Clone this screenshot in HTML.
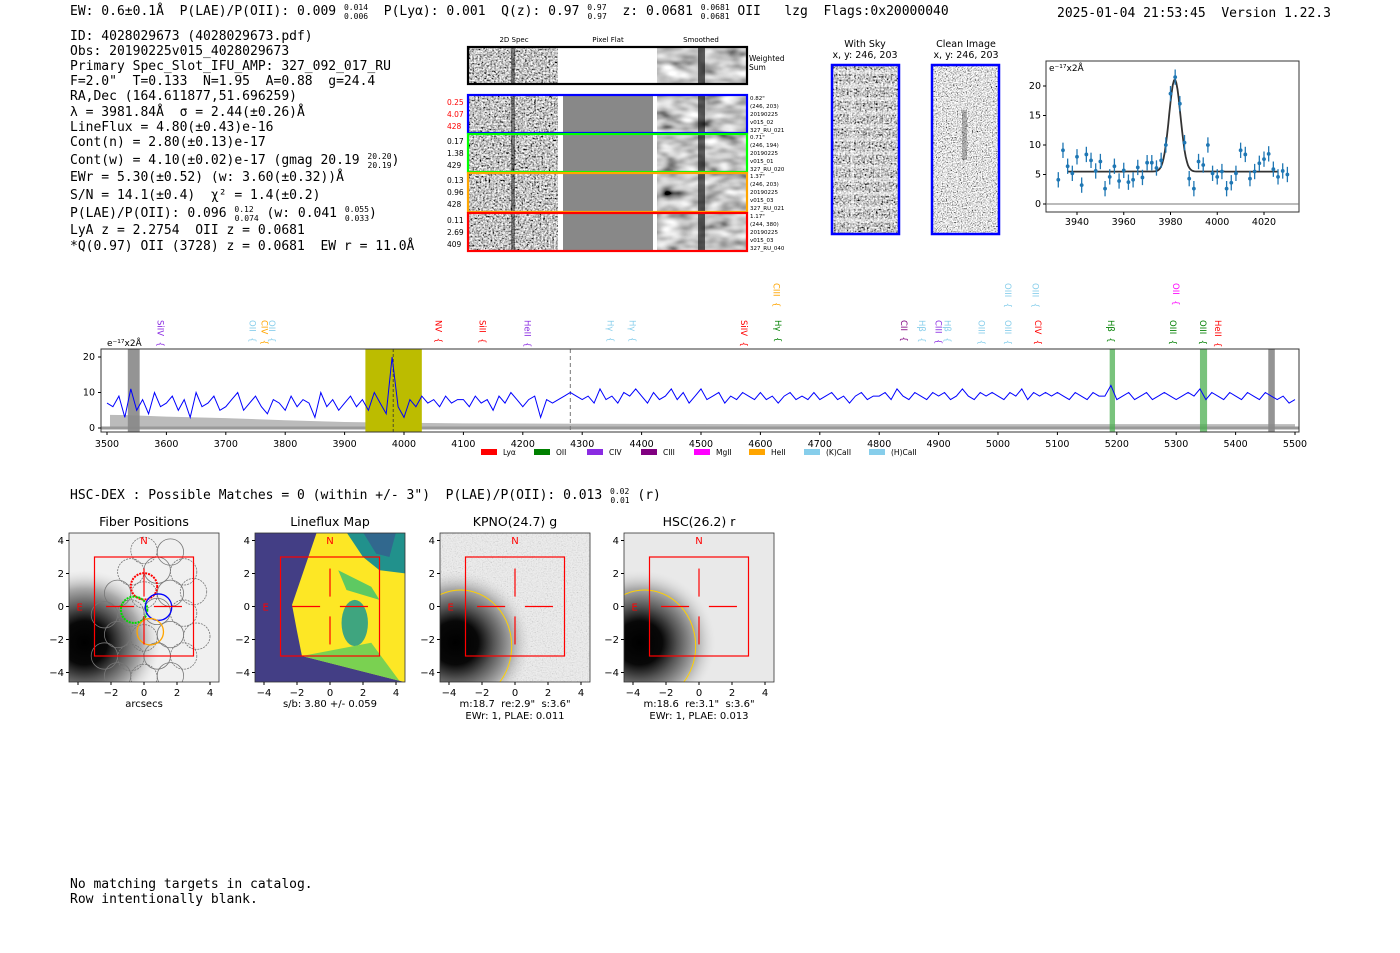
<!DOCTYPE html>
<html><head><meta charset="utf-8"><title>Detection 4028029673</title>
<style>
html,body{margin:0;padding:0;background:#fff;}
svg{display:block;}
text{white-space:pre;}
.mono{font-family:"DejaVu Sans Mono","Liberation Mono",monospace;}
.sans{font-family:"DejaVu Sans","Liberation Sans",sans-serif;}
</style></head>
<body>
<svg id="page" width="1400" height="953" viewBox="0 0 1400 953" xmlns="http://www.w3.org/2000/svg" xml:space="preserve">
<defs>
<filter id="noiseF" x="0" y="0" width="100%" height="100%">
<feTurbulence type="fractalNoise" baseFrequency="0.55" numOctaves="2" seed="3"/>
<feColorMatrix type="matrix" values="1.5 1.5 0 0 -0.95  1.5 1.5 0 0 -0.95  1.5 1.5 0 0 -0.95  0 0 0 0 1"/>
</filter>
<filter id="smoothF" x="0" y="0" width="100%" height="100%">
<feTurbulence type="fractalNoise" baseFrequency="0.05 0.1" numOctaves="2" seed="7"/>
<feColorMatrix type="matrix" values="1.0 1.0 0 0 -0.45  1.0 1.0 0 0 -0.45  1.0 1.0 0 0 -0.45  0 0 0 0 1"/>
</filter>
<filter id="fineF" x="0" y="0" width="100%" height="100%">
<feTurbulence type="fractalNoise" baseFrequency="0.8" numOctaves="1" seed="11"/>
<feColorMatrix type="matrix" values="1.8 1.8 0 0 -1.05  1.8 1.8 0 0 -1.05  1.8 1.8 0 0 -1.05  0 0 0 0 1"/>
</filter>
<radialGradient id="blob" cx="0.5" cy="0.5" r="0.5">
<stop offset="0" stop-color="#000"/><stop offset="0.3" stop-color="#080808"/><stop offset="0.5" stop-color="#555"/><stop offset="0.75" stop-color="#aaa"/><stop offset="1" stop-color="#ddd" stop-opacity="0"/>
</radialGradient>
<clipPath id="cp0"><rect x="69" y="533" width="150" height="149"/></clipPath>
<clipPath id="cp1"><rect x="255" y="533" width="150" height="149"/></clipPath>
<clipPath id="cp2"><rect x="440" y="533" width="150" height="149"/></clipPath>
<clipPath id="cp3"><rect x="624" y="533" width="150" height="149"/></clipPath>
<clipPath id="cpSpec"><rect x="101" y="349" width="1198" height="83"/></clipPath>
</defs>
<rect width="1400" height="953" fill="#fff"/>

<g class="mono" font-size="13" fill="#000">
<text x="70" y="15">EW: 0.6±0.1Å  P(LAE)/P(OII): 0.009 <tspan font-size="8" dy="-5">0.014</tspan><tspan font-size="8" dx="-24" dy="9">0.006</tspan><tspan dy="-4">  P(Lyα): 0.001  Q(z): 0.97 </tspan><tspan font-size="8" dy="-5">0.97</tspan><tspan font-size="8" dx="-19" dy="9">0.97</tspan><tspan dy="-4">  z: 0.0681 </tspan><tspan font-size="8" dy="-5">0.0681</tspan><tspan font-size="8" dx="-29" dy="9">0.0681</tspan><tspan dy="-4"> OII   lzg  Flags:0x20000040</tspan></text>
<text x="1057" y="17">2025-01-04 21:53:45  Version 1.22.3</text>
</g>
<g class="mono" font-size="13" fill="#000">
<text x="70" y="40">ID: 4028029673 (4028029673.pdf)</text>
<text x="70" y="55">Obs: 20190225v015_4028029673</text>
<text x="70" y="70">Primary Spec_Slot_IFU_AMP: 327_092_017_RU</text>
<text x="70" y="85">F=2.0"  T=0.133  N=1.95  A=0.88  g=24.4</text>
<text x="70" y="100">RA,Dec (164.611877,51.696259)</text>
<text x="70" y="116">λ = 3981.84Å  σ = 2.44(±0.26)Å</text>
<text x="70" y="131">LineFlux = 4.80(±0.43)e-16</text>
<text x="70" y="146">Cont(n) = 2.80(±0.13)e-17</text>
<text x="70" y="164">Cont(w) = 4.10(±0.02)e-17 (gmag 20.19 <tspan font-size="8" dy="-5">20.20</tspan><tspan font-size="8" dx="-24" dy="9">20.19</tspan><tspan dy="-4">)</tspan></text>
<text x="70" y="181">EWr = 5.30(±0.52) (w: 3.60(±0.32))Å</text>
<text x="70" y="199">S/N = 14.1(±0.4)  χ² = 1.4(±0.2)</text>
<text x="70" y="217">P(LAE)/P(OII): 0.096 <tspan font-size="8" dy="-5">0.12</tspan><tspan font-size="8" dx="-19" dy="9">0.074</tspan><tspan dy="-4"> (w: 0.041 </tspan><tspan font-size="8" dy="-5">0.055</tspan><tspan font-size="8" dx="-24" dy="9">0.033</tspan><tspan dy="-4">)</tspan></text>
<text x="70" y="234">LyA z = 2.2754  OII z = 0.0681</text>
<text x="70" y="250">*Q(0.97) OII (3728) z = 0.0681  EW r = 11.0Å</text>
</g>

<g id="cutouts" class="sans">
<text x="514" y="42" font-size="7" text-anchor="middle">2D Spec</text>
<text x="608" y="42" font-size="7" text-anchor="middle">Pixel Flat</text>
<text x="701" y="42" font-size="7" text-anchor="middle">Smoothed</text>
</g>

<g class="sans" font-size="9.5" text-anchor="middle">
<text x="865" y="47">With Sky</text><text x="865" y="58">x, y: 246, 203</text>
<text x="966" y="47">Clean Image</text><text x="966" y="58">x, y: 246, 203</text>
</g>
<g>
<rect x="832" y="65" width="67" height="169" filter="url(#noiseF)"/>
<g id="skyStripes"></g>
<rect x="832" y="65" width="67" height="169" fill="none" stroke="#0000ff" stroke-width="2.5"/>
</g>
<g>
<rect x="932" y="65" width="67" height="169" filter="url(#fineF)"/>
<rect x="962" y="110" width="5" height="50" fill="#000" opacity="0.25"/>
<rect x="932" y="65" width="67" height="169" fill="none" stroke="#0000ff" stroke-width="2.5"/>
</g>

<g id="fitplot" class="sans"></g>
<g id="spectrum" class="sans"></g>

<text class="mono" font-size="13" x="70" y="499">HSC-DEX : Possible Matches = 0 (within +/- 3")  P(LAE)/P(OII): 0.013 <tspan font-size="8" dy="-5">0.02</tspan><tspan font-size="8" dx="-19" dy="9">0.01</tspan><tspan dy="-4"> (r)</tspan></text>

<g id="panels" class="sans"></g>

<g class="mono" font-size="13">
<text x="70" y="888">No matching targets in catalog.</text>
<text x="70" y="903">Row intentionally blank.</text>
</g>
</svg>

<script>
const NS='http://www.w3.org/2000/svg';
function mk(tag,attrs,parent,txt){const e=document.createElementNS(NS,tag);for(const k in attrs)e.setAttribute(k,attrs[k]);if(txt!==undefined)e.textContent=txt;if(parent)parent.appendChild(e);return e;}

const fitWave=[3932,3934,3936,3938,3940,3942,3944,3946,3948,3950,3952,3954,3956,3958,3960,3962,3964,3966,3968,3970,3972,3974,3976,3978,3980,3982,3984,3986,3988,3990,3992,3994,3996,3998,4000,4002,4004,4006,4008,4010,4012,4014,4016,4018,4020,4022,4024,4026,4028,4030];
const fitFlux=[4.1,9.1,6.4,5.2,8.0,3.2,8.4,7.4,5.6,7.2,2.6,4.6,6.4,3.9,5.7,3.7,4.1,6.2,4.5,7.0,7.0,6.1,7.4,10.0,18.7,21.5,17.0,10.4,4.3,2.6,7.2,6.6,10.0,5.2,4.6,5.5,2.6,3.6,5.2,9.1,8.4,4.3,5.5,6.9,7.6,8.5,5.9,4.6,5.6,5.0];
const fitErr=1.3;
const fitMu=3981.84, fitSigma=2.44, fitCont=5.5, fitAmp=15.6;
const fitXTicks=[3940,3960,3980,4000,4020];
const fitYTicks=[0,5,10,15,20];

const specStart=3500, specStep=10;
const specFlux=[7,6,9,3,11,5,8,4,10,6, 7,9,5,8,3,10,6,7,9,5, 6,8,10,5,7,9,6,4,8,7, 5,9,6,8,7,3,10,6,8,5,
7,9,6,8,5,10,7,4,20,6, 3,8,6,9,7,8,6,9,7,8, 8,6,9,7,8,5,9,7,10,8, 6,8,9,3,8,7,8,9,10,9,
8,9,7,11,8,9,7,10,9,11, 9,7,10,8,9,11,8,10,7,9, 11,8,9,10,7,9,8,10,9,8, 10,8,9,7,9,10,8,9,8,10,
8,9,10,8,9,7,9,10,8,9, 9,10,8,11,9,8,10,9,8,10, 9,10,8,9,11,9,8,10,9,10, 9,8,10,9,11,8,10,9,10,9,
10,9,8,10,9,8,10,9,9,12, 8,9,10,8,9,10,8,9,10,9, 8,9,10,9,11,8,10,9,8,10, 9,8,10,9,8,10,9,8,9,7, 8];
const skyWave=[3505,3540,3600,3700,3800,3900,4000,4100,4300,4600,5000,5500];
const skyFlux=[3.7,3.6,3.2,2.8,2.2,1.7,1.5,1.3,1.2,1.1,1.1,1.1];
const specXTicks=[3500,3600,3700,3800,3900,4000,4100,4200,4300,4400,4500,4600,4700,4800,4900,5000,5100,5200,5300,5400,5500];
const specYTicks=[0,10,20];
const lineNames=['SiIV','OII','CIV','OII','NV','SiII','HeII','Hγ','Hγ','SiIV','Hγ','CIII','CII','Hβ','CIII','Hβ','OIII','OIII','OIII','OIII','CIV','Hβ','OIII','OIII','HeII','OII'];
const lineWaves=[3590,3745,3765,3778,4058,4132,4208,4348,4385,4572,4630,4627,4842,4872,4900,4915,4972,5017,5017,5063,5067,5190,5295,5345,5370,5300];
const lineRows=[0,0,0,0,0,0,0,0,0,0,0,1,0,0,0,0,0,0,1,1,0,0,0,0,0,1];
const lineColors=['#8a2be2','#87ceeb','#ffa500','#87ceeb','#ff0000','#ff0000','#8a2be2','#87ceeb','#87ceeb','#ff0000','#008000','#ffa500','#800080','#87ceeb','#8a2be2','#87ceeb','#87ceeb','#87ceeb','#87ceeb','#87ceeb','#ff0000','#008000','#008000','#008000','#ff0000','#ff00ff'];
const legendNames=['Lyα','OII','CIV','CIII','MgII','HeII','(K)CaII','(H)CaII'];
const legendColors=['#ff0000','#008000','#8a2be2','#800080','#ff00ff','#ffa500','#87ceeb','#87ceeb'];

(function(){
 const g=document.getElementById('cutouts');
 const rows=[{y:47,h:37,c:'#000'},{y:95,h:38,c:'#0000ff'},{y:134,h:38,c:'#00ff00'},{y:173,h:39,c:'#ffa500'},{y:213,h:38,c:'#ff0000'}];
 const leftLabels=[null,['0.25','4.07','428'],['0.17','1.38','429'],['0.13','0.96','428'],['0.11','2.69','409']];
 const rightLabels=[null,['0.82"','(246, 203)','20190225','v015_02','327_RU_021'],['0.71"','(246, 194)','20190225','v015_01','327_RU_020'],['1.37"','(246, 203)','20190225','v015_03','327_RU_021'],['1.17"','(244, 380)','20190225','v015_03','327_RU_040']];
 rows.forEach((r,i)=>{
  const cell=mk('g',{},g);
  
  
  mk('rect',{x:469,y:r.y,width:89,height:r.h,filter:'url(#noiseF)'},cell);
  mk('rect',{x:511,y:r.y,width:4,height:r.h,fill:'#000',opacity:0.45},cell);
  if(i===0) mk('rect',{x:559,y:r.y,width:97,height:r.h,fill:'#fff'},cell);
  else {mk('rect',{x:558,y:r.y,width:5,height:r.h,fill:'#fff'},cell);mk('rect',{x:563,y:r.y,width:90,height:r.h,fill:'#888'},cell);mk('rect',{x:653,y:r.y,width:4,height:r.h,fill:'#fff'},cell);}
  mk('rect',{x:657,y:r.y,width:90,height:r.h,filter:'url(#smoothF)'},cell);
  mk('rect',{x:698,y:r.y,width:7,height:r.h,fill:'#000',opacity:0.6},cell);
  mk('rect',{x:468,y:r.y,width:279,height:r.h,fill:'none',stroke:r.c,'stroke-width':2.2},cell);
  if(leftLabels[i]) leftLabels[i].forEach((t,k)=>mk('text',{x:447,y:r.y+10+k*12,'font-size':7.5,fill:i===1?'#ff0000':'#000'},cell,t));
  if(rightLabels[i]) rightLabels[i].forEach((t,k)=>mk('text',{x:750,y:r.y+5+k*8,'font-size':5.5,fill:'#000'},cell,t));
 });
 mk('text',{x:749,y:61,'font-size':7.5},g,'Weighted');
 mk('text',{x:749,y:70,'font-size':7.5},g,'Sum');
 const s=document.getElementById('skyStripes');
 for(let y=70;y<232;y+=13.5) mk('rect',{x:832,y:y,width:67,height:4,fill:'#fff',opacity:0.45},s);
 mk('rect',{x:851,y:65,width:3,height:169,fill:'#fff',opacity:0.35},s);
})();

(function(){
 const g=document.getElementById('fitplot');
 const L=1046,R=1299,T=61,B=212;
 const xs=w=>1077+(w-3940)*(187/80);
 const ys=v=>204-v*5.9;
 mk('rect',{x:L,y:T,width:R-L,height:B-T,fill:'#fff',stroke:'#333','stroke-width':1},g);
 mk('line',{x1:L,x2:R,y1:ys(0),y2:ys(0),stroke:'#777','stroke-width':1},g);
 fitXTicks.forEach(t=>{mk('line',{x1:xs(t),x2:xs(t),y1:B,y2:B+3,stroke:'#000'},g);mk('text',{x:xs(t),y:B+13,'font-size':9.5,'text-anchor':'middle'},g,t);});
 fitYTicks.forEach(t=>{mk('line',{x1:L-3,x2:L,y1:ys(t),y2:ys(t),stroke:'#000'},g);mk('text',{x:L-5,y:ys(t)+3,'font-size':9.5,'text-anchor':'end'},g,t);});
 let d='';
 for(let w=3936;w<=4026;w+=0.5){const v=fitCont+fitAmp*Math.exp(-0.5*Math.pow((w-fitMu)/fitSigma,2));d+=(d?'L':'M')+xs(w).toFixed(1)+','+ys(v).toFixed(1);}
 const m=mk('path',{d:d,fill:'none',stroke:'#333','stroke-width':1.8},g);
 
 
 fitWave.forEach((w,i)=>{
  const p=mk('g',{},g);
  
  
  mk('line',{x1:xs(w),x2:xs(w),y1:ys(fitFlux[i]-fitErr),y2:ys(fitFlux[i]+fitErr),stroke:'#1f77b4','stroke-width':1.3},p);
  mk('circle',{cx:xs(w),cy:ys(fitFlux[i]),r:1.9,fill:'#1f77b4'},p);
 });
 mk('text',{x:L+3,y:T+10,'font-size':9},g,'e⁻¹⁷x2Å');
})();

(function(){
 const g=document.getElementById('spectrum');
 const L=101,R=1299,T=349,B=432;
 const xs=w=>107+(w-3500)*0.594;
 const ys=v=>428-v*3.55;
 mk('rect',{x:L,y:T,width:R-L,height:B-T,fill:'#fff'},g);
 const c=mk('g',{'clip-path':'url(#cpSpec)'},g);
 let sd='M'+xs(skyWave[0])+','+ys(0);
 skyWave.forEach((w,i)=>sd+='L'+xs(w).toFixed(1)+','+ys(skyFlux[i]).toFixed(1));
 sd+='L'+xs(skyWave[skyWave.length-1])+','+ys(0)+'Z';
 const sky=mk('path',{d:sd,fill:'#bbb'},c);
 
 
 mk('rect',{x:L,y:ys(0)-1.5,width:R-L,height:3,fill:'#999'},c);
 const bands=[[3935,4030,'#bcbc00',1],[3535,3555,'#888',0.9],[5455,5466,'#888',0.9],[5188,5197,'#4caf50',0.75],[5340,5352,'#4caf50',0.75]];
 bands.forEach(b=>{const r=mk('rect',{x:xs(b[0]),y:T,width:xs(b[1])-xs(b[0]),height:B-T,fill:b[2],opacity:b[3]},c);});
 mk('line',{x1:xs(3981.8),x2:xs(3981.8),y1:T,y2:B,stroke:'#333','stroke-dasharray':'3,2','stroke-width':0.8},c);
 mk('line',{x1:xs(4280),x2:xs(4280),y1:T,y2:B,stroke:'#777','stroke-dasharray':'4,3','stroke-width':1},c);
 let d='';
 specFlux.forEach((v,i)=>{d+=(i?'L':'M')+xs(specStart+i*specStep).toFixed(1)+','+ys(v).toFixed(1);});
 const ln=mk('path',{d:d,fill:'none',stroke:'#0000ff','stroke-width':1},c);
 
 
 mk('rect',{x:L,y:T,width:R-L,height:B-T,fill:'none',stroke:'#333','stroke-width':1},g);
 specXTicks.forEach(t=>{mk('line',{x1:xs(t),x2:xs(t),y1:B,y2:B+3,stroke:'#000'},g);mk('text',{x:xs(t),y:B+15,'font-size':9.5,'text-anchor':'middle'},g,t);});
 specYTicks.forEach(t=>{mk('line',{x1:L-3,x2:L,y1:ys(t),y2:ys(t),stroke:'#000'},g);mk('text',{x:L-6,y:ys(t)+3,'font-size':9.5,'text-anchor':'end'},g,t);});
 mk('text',{x:107,y:346,'font-size':9},g,'e⁻¹⁷x2Å');
 lineNames.forEach((n,i)=>{
  const x=xs(lineWaves[i]), y=lineRows[i]?283:320;
  const t=mk('text',{x:0,y:0,'font-size':8.5,fill:lineColors[i],transform:'translate('+(x-3)+','+y+') rotate(90)'},g,n+'  {');
  
  
 });
 const lxs=[481,534,587,641,694,749,804,869];
 legendNames.forEach((n,i)=>{
  const e=mk('g',{},g);
  
  
  mk('rect',{x:lxs[i],y:449,width:16,height:6,fill:legendColors[i]},e);
  mk('text',{x:lxs[i]+22,y:455,'font-size':7.5},e,n);
 });
})();

const panelTitles=['Fiber Positions','Lineflux Map','KPNO(24.7) g','HSC(26.2) r'];
const panelLefts=[69,255,440,624];
const panelTicks=[-4,-2,0,2,4];
const fiberGrayX=[0.0,1.6,-0.8,0.8,2.4,-1.6,0,1.6,3.0,-2.4,-0.8,0.8,2.4,-1.6,0,1.6,3.2,-2.4,-0.8,0.8,2.4,-1.6,0,1.6];
const fiberGrayY=[3.4,3.3,2.1,2.2,2.1,0.8,0.7,0.8,0.9,-0.5,-0.4,-0.3,-0.4,-1.7,-1.9,-1.7,-1.8,-3.0,-3.1,-3.0,-3.0,-4.2,-4.3,-4.2];
const fiberColX=[0,-0.6,0.88,0.38];
const fiberColY=[1.22,-0.2,-0.04,-1.53];
const fiberColC=['#ff0000','#00dd00','#0000ff','#ffa500'];
const subLabels=[['arcsecs'],['s/b: 3.80 +/- 0.059'],['m:18.7  re:2.9"  s:3.6"','EWr: 1, PLAE: 0.011'],['m:18.6  re:3.1"  s:3.6"','EWr: 1, PLAE: 0.013']];
(function(){
 const g=document.getElementById('panels');
 panelLefts.forEach((L,p)=>{
  const pg=mk('g',{},g);
  
  
  const u=16.5, cx=L+75, cy=606.5;
  const X=v=>cx+v*u, Y=v=>cy-v*u;
  mk('text',{x:cx,y:526,'font-size':12.5,'text-anchor':'middle'},pg,panelTitles[p]);
  const c=mk('g',{'clip-path':'url(#cp'+p+')'},pg);
  if(p===1){
   mk('rect',{x:L,y:533,width:150,height:149,fill:'#433e85'},c);
   mk('polygon',{points:[[X(-0.8),Y(4.5)],[X(4.6),Y(4.5)],[X(4.6),Y(-4.6)],[X(4.2),Y(-4.5)],[X(-1.7),Y(-3.0)],[X(-2.0),Y(-1.5)],[X(-2.3),Y(0.1)]].map(a=>a.join(',')).join(' '),fill:'#fde725'},c);
   mk('polygon',{points:[[X(1.0),Y(4.5)],[X(4.6),Y(4.5)],[X(4.6),Y(2.0)],[X(3.0),Y(2.2)],[X(2.0),Y(3.0)]].map(a=>a.join(',')).join(' '),fill:'#21918c'},c);
   mk('polygon',{points:[[X(2.0),Y(4.5)],[X(4.0),Y(4.5)],[X(3.6),Y(3.0)],[X(2.8),Y(3.2)]].map(a=>a.join(',')).join(' '),fill:'#31688e'},c);
   mk('ellipse',{cx:X(1.5),cy:Y(-1.0),rx:u*0.8,ry:u*1.4,fill:'#2a9d8a',opacity:0.9},c);
   mk('polygon',{points:[[X(0.5),Y(2.2)],[X(2.5),Y(1.2)],[X(3.0),Y(0.4)],[X(1.0),Y(1.0)]].map(a=>a.join(',')).join(' '),fill:'#5ec962'},c);
   mk('polygon',{points:[[X(-1.7),Y(-3.0)],[X(2.5),Y(-2.2)],[X(4.2),Y(-4.5)]].map(a=>a.join(',')).join(' '),fill:'#7ad151'},c);
  } else {
   mk('rect',{x:L,y:533,width:150,height:149,fill:p===0?'#f0f0f0':'#e9e9e9'},c);
   if(p===2){mk('rect',{x:L,y:533,width:150,height:149,filter:'url(#fineF)',opacity:0.15},c);}
   mk('ellipse',{cx:X(-3.6),cy:Y(-2.2),rx:u*4.6,ry:u*4.4,fill:'url(#blob)'},c);
  }
  if(p===0){
   fiberGrayX.forEach((fx,i)=>{const f=mk('circle',{cx:X(fx),cy:Y(fiberGrayY[i]),r:u*0.8,fill:'none',stroke:'#777','stroke-width':0.8,'stroke-dasharray':i%2?'none':'2,1'},c);});
   fiberColX.forEach((fx,i)=>{const f=mk('circle',{cx:X(fx),cy:Y(fiberColY[i]),r:u*0.8,fill:'none',stroke:fiberColC[i],'stroke-width':i<2?2:1.3,'stroke-dasharray':i<2?'2,1':'none'},c);});
  }
  if(p>=2){mk('ellipse',{cx:X(-3.3),cy:Y(-2.4),rx:u*3.1,ry:u*3.4,fill:'none',stroke:'#ffd000','stroke-width':1},c);}
  mk('rect',{x:X(-3),y:Y(3),width:u*6,height:u*6,fill:'none',stroke:'#ff0000','stroke-width':1.2},pg);
  [[0.6,2.3]].forEach(a=>{
   mk('line',{x1:X(a[0]),x2:X(a[1]),y1:cy,y2:cy,stroke:'#ff0000','stroke-width':1.2},pg);
   mk('line',{x1:X(-a[0]),x2:X(-a[1]),y1:cy,y2:cy,stroke:'#ff0000','stroke-width':1.2},pg);
   mk('line',{y1:Y(a[0]),y2:Y(a[1]),x1:cx,x2:cx,stroke:'#ff0000','stroke-width':1.2},pg);
   mk('line',{y1:Y(-a[0]),y2:Y(-a[1]),x1:cx,x2:cx,stroke:'#ff0000','stroke-width':1.2},pg);
  });
  mk('text',{x:cx,y:Y(3.8),'font-size':10,fill:'#ff0000','text-anchor':'middle'},pg,'N');
  mk('text',{x:X(-3.9),y:cy+4,'font-size':10,fill:'#ff0000','text-anchor':'middle'},pg,'E');
  mk('rect',{x:L,y:533,width:150,height:149,fill:'none',stroke:'#333','stroke-width':0.8},pg);
  panelTicks.forEach(t=>{
   mk('line',{x1:X(t),x2:X(t),y1:682,y2:685,stroke:'#000'},pg);
   mk('text',{x:X(t),y:696,'font-size':10,'text-anchor':'middle'},pg,t<0?'−'+(-t):t);
   mk('line',{x1:L-3,x2:L,y1:Y(t),y2:Y(t),stroke:'#000'},pg);
   mk('text',{x:L-5,y:Y(t)+3.5,'font-size':10,'text-anchor':'end'},pg,t<0?'−'+(-t):t);
  });
  subLabels[p].forEach((s,k)=>mk('text',{x:cx,y:707+k*12,'font-size':10,'text-anchor':'middle'},pg,s));
 });
})();
</script>
</body></html>
